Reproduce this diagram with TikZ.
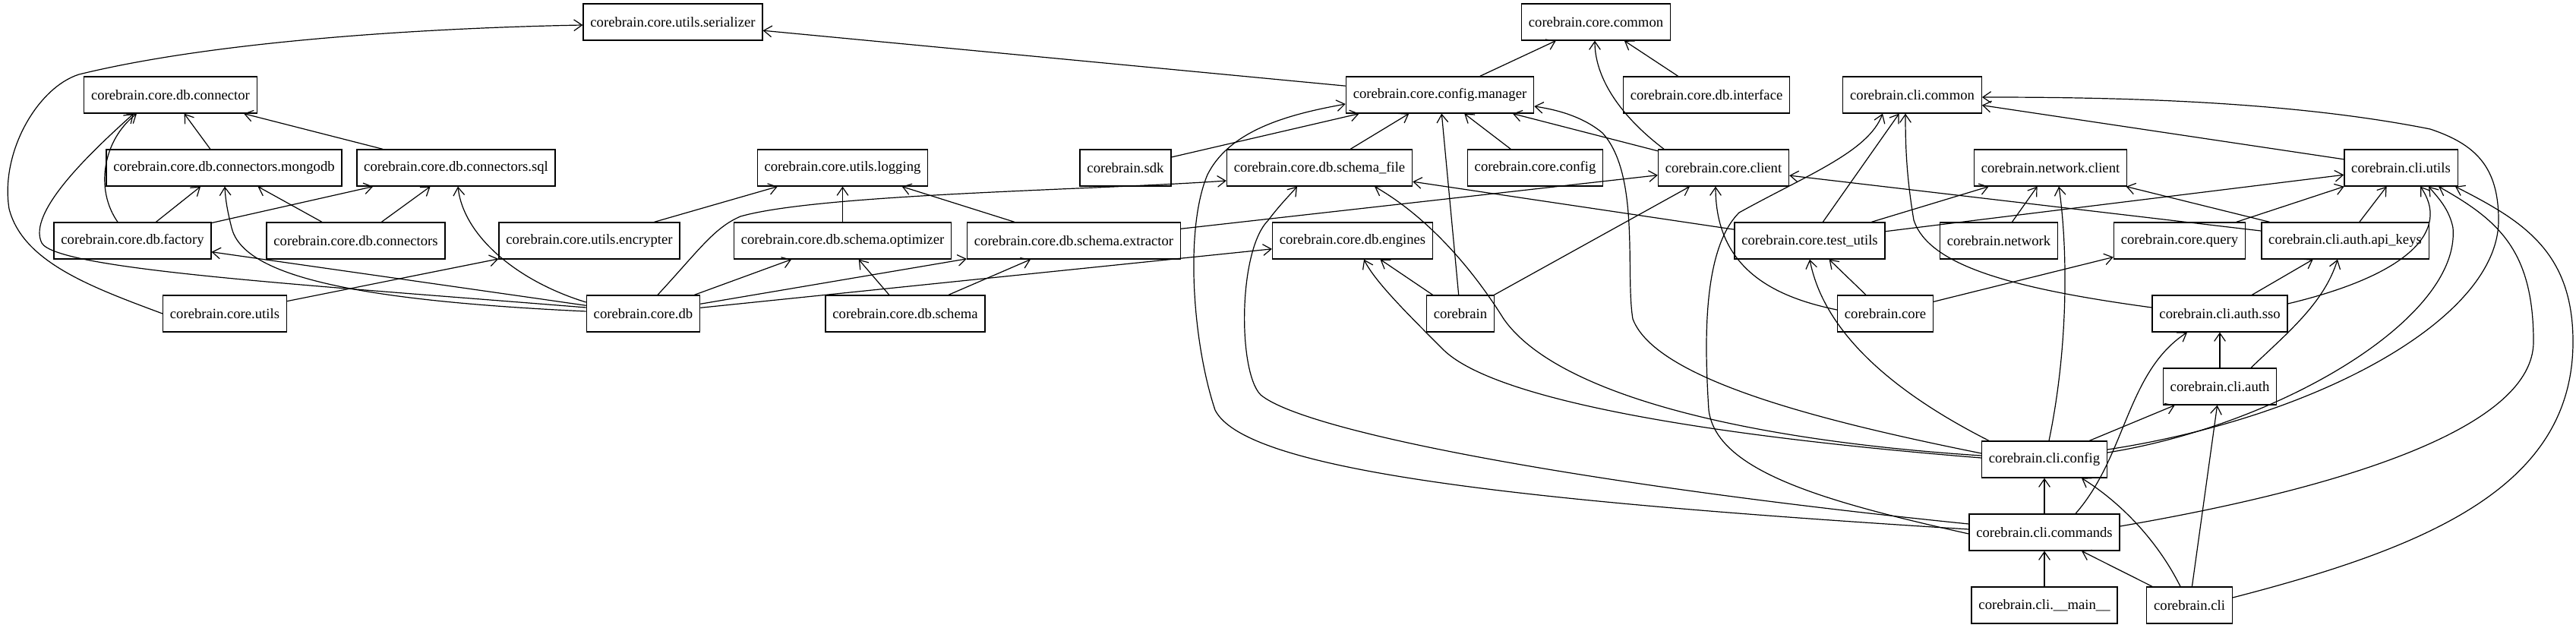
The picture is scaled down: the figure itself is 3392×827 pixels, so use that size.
\documentclass[tikz,border=0pt]{standalone}
\usepackage{fontspec}
\setmainfont{Liberation Serif}
\usetikzlibrary{arrows.meta}
\tikzset{
  mod/.style={draw, line width=1pt, minimum height=36pt, inner xsep=7pt, inner ysep=0pt, font=\fontsize{14}{16}\selectfont},
  dep/.style={line width=0.9pt, -{Straight Barb[length=8pt,width=11pt]}}
}

\begin{document}
\begin{tikzpicture}[x=0.75pt, y=-0.75pt]
\useasboundingbox (0,0) rectangle (3392,827);
% modules
\node[mod] (ser) at (886,29) {corebrain.core.utils.serializer};
\node[mod] (ccommon) at (2101.5,29) {corebrain.core.common};
\node[mod] (conn) at (224.5,125) {corebrain.core.db.connector};
\node[mod] (cfgmgr) at (1896,125) {corebrain.core.config.manager};
\node[mod] (dbif) at (2247,125) {corebrain.core.db.interface};
\node[mod] (clicommon) at (2518,125) {corebrain.cli.common};
\node[mod] (mongo) at (295,221) {corebrain.core.db.connectors.mongodb};
\node[mod] (sql) at (600.5,221) {corebrain.core.db.connectors.sql};
\node[mod] (logging) at (1109.5,221) {corebrain.core.utils.logging};
\node[mod] (sdk) at (1482,221) {corebrain.sdk};
\node[mod] (schemafile) at (1737.5,221) {corebrain.core.db.schema\_file};
\node[mod] (cconfig) at (2021.5,221) {corebrain.core.config};
\node[mod] (cclient) at (2269.5,221) {corebrain.core.client};
\node[mod] (netclient) at (2700,221) {corebrain.network.client};
\node[mod] (cliutils) at (3161.5,221) {corebrain.cli.utils};
\node[mod] (factory) at (174.5,317) {corebrain.core.db.factory};
\node[mod] (connectors) at (468.5,317) {corebrain.core.db.connectors};
\node[mod] (encrypter) at (776,317) {corebrain.core.utils.encrypter};
\node[mod] (optimizer) at (1109.5,317) {corebrain.core.db.schema.optimizer};
\node[mod] (extractor) at (1414,317) {corebrain.core.db.schema.extractor};
\node[mod] (engines) at (1781,317) {corebrain.core.db.engines};
\node[mod] (testutils) at (2383,317) {corebrain.core.test\_utils};
\node[mod] (network) at (2632,317) {corebrain.network};
\node[mod] (query) at (2870,317) {corebrain.core.query};
\node[mod] (apikeys) at (3088,317) {corebrain.cli.auth.api\_keys};
\node[mod] (cutils) at (296,413) {corebrain.core.utils};
\node[mod] (db) at (847,413) {corebrain.core.db};
\node[mod] (schema) at (1192,413) {corebrain.core.db.schema};
\node[mod] (corebrain) at (1923,413) {corebrain};
\node[mod] (core) at (2482.5,413) {corebrain.core};
\node[mod] (sso) at (2923,413) {corebrain.cli.auth.sso};
\node[mod] (auth) at (2923,509) {corebrain.cli.auth};
\node[mod] (cliconfig) at (2692,605) {corebrain.cli.config};
\node[mod] (commands) at (2692,701) {corebrain.cli.commands};
\node[mod] (climain) at (2692,797) {corebrain.cli.\_\_main\_\_};
\node[mod] (cli) at (2883,797) {corebrain.cli};

% straight imports
\draw[dep] (cfgmgr) -- (ser);
\draw[dep] (cfgmgr) -- (ccommon);
\draw[dep] (dbif) -- (ccommon);
\draw[dep] (mongo) -- (conn);
\draw[dep] (sql) -- (conn);
\draw[dep] (factory) -- (mongo);
\draw[dep] (factory) -- (sql);
\draw[dep] (connectors) -- (mongo);
\draw[dep] (connectors) -- (sql);
\draw[dep] (db) -- (factory);
\draw[dep] (cutils) -- (encrypter);
\draw[dep] (encrypter) -- (logging);
\draw[dep] (optimizer) -- (logging);
\draw[dep] (extractor) -- (logging);
\draw[dep] (db) -- (optimizer);
\draw[dep] (db) -- (extractor);
\draw[dep] (db) -- (engines);
\draw[dep] (schema) -- (optimizer);
\draw[dep] (schema) -- (extractor);
\draw[dep] (extractor) -- (cclient);
\draw[dep] (sdk) -- (cfgmgr);
\draw[dep] (schemafile) -- (cfgmgr);
\draw[dep] (cconfig) -- (cfgmgr);
\draw[dep] (cclient) -- (cfgmgr);
\draw[dep] (corebrain) -- (cfgmgr);
\draw[dep] (corebrain) -- (cclient);
\draw[dep] (corebrain) -- (engines);
\draw[dep] (testutils) -- (schemafile);
\draw[dep] (testutils) -- (clicommon);
\draw[dep] (testutils) -- (netclient);
\draw[dep] (testutils) -- (cliutils);
\draw[dep] (core) -- (testutils);
\draw[dep] (core) -- (query);
\draw[dep] (network) -- (netclient);
\draw[dep] (apikeys) -- (netclient);
\draw[dep] (apikeys) -- (cclient);
\draw[dep] (apikeys) -- (cliutils);
\draw[dep] (query) -- (cliutils);
\draw[dep] (cliutils) -- (clicommon);
\draw[dep] (sso) -- (apikeys);
\draw[dep] (auth) -- (sso);
\draw[dep] (cliconfig) -- (auth);
\draw[dep] (commands) -- (cliconfig);
\draw[dep] (cli) -- (commands);
\draw[dep] (cli) -- (auth);
\draw[dep] (climain) -- (commands);

% curved imports
\draw[dep] (cutils.west) .. controls (120,378) and (30,345) .. (12,275) .. controls (0,200) and (50,115) .. (104,98) .. controls (300,50) and (600,36) .. (ser.west |- 0,33);
\draw[dep] (db.west |- 0,405) .. controls (400,375) and (75,355) .. (55,320) .. controls (35,280) and (120,200) .. (conn.south -| 176,0);
\draw[dep] (factory.north -| 155,0) .. controls (125,250) and (135,185) .. (conn.south -| 180,0);
\draw[dep] (db.west |- 0,410) .. controls (450,395) and (320,360) .. (305,300) .. controls (300,280) and (297,265) .. (mongo.south -| 296,0);
\draw[dep] (db.west |- 0,398) .. controls (680,370) and (610,310) .. (sql.south -| 603,0);
\draw[dep] (db.north -| 866,0) .. controls (920,330) and (940,300) .. (975,285) .. controls (1080,255) and (1450,250) .. (schemafile.west |- 0,238);
\draw[dep] (cclient.north -| 2191,0) .. controls (2130,150) and (2100,100) .. (ccommon.south -| 2100,0);
\draw[dep] (core.west |- 0,408) .. controls (2330,390) and (2259,350) .. (cclient.south -| 2259,0);
\draw[dep] (commands.west |- 0,697) .. controls (2000,660) and (1640,620) .. (1600,540) .. controls (1570,450) and (1560,300) .. (1590,230) .. controls (1620,170) and (1700,150) .. (cfgmgr.west |- 0,137);
\draw[dep] (commands.west |- 0,690) .. controls (2100,640) and (1720,570) .. (1660,520) .. controls (1630,490) and (1630,330) .. (1670,290) .. controls (1685,270) and (1700,255) .. (schemafile.south -| 1708,0);
\draw[dep] (commands.west |- 0,703) .. controls (2400,660) and (2260,620) .. (2250,540) .. controls (2245,460) and (2240,330) .. (2290,280) .. controls (2380,230) and (2460,200) .. (clicommon.south -| 2479,0);
\draw[dep] (cliconfig.west |- 0,597) .. controls (2400,555) and (2180,500) .. (2150,420) .. controls (2140,360) and (2160,230) .. (2110,175) .. controls (2080,150) and (2040,143) .. (cfgmgr.east |- 0,140);
\draw[dep] (cliconfig.west |- 0,600) .. controls (2300,580) and (2050,520) .. (1980,420) .. controls (1930,340) and (1870,280) .. (schemafile.south -| 1810,0);
\draw[dep] (cliconfig.west |- 0,603) .. controls (2200,570) and (1960,520) .. (1900,460) .. controls (1850,410) and (1810,370) .. (engines.south -| 1796,0);
\draw[dep] (cliconfig.north -| 2619,0) .. controls (2480,510) and (2400,430) .. (testutils.south -| 2383,0);
\draw[dep] (cliconfig.north -| 2698,0) .. controls (2725,450) and (2722,320) .. (netclient.south -| 2711,0);
\draw[dep] (sso.west |- 0,405) .. controls (2650,380) and (2540,350) .. (2520,290) .. controls (2510,230) and (2509,190) .. (clicommon.south -| 2509,0);
\draw[dep] (sso.east |- 0,400) .. controls (3180,360) and (3225,300) .. (cliutils.south -| 3187,0);
\draw[dep] (auth.north -| 2964,0) .. controls (3010,440) and (3060,400) .. (apikeys.south -| 3078,0);
\draw[dep] (commands.north -| 2733,0) .. controls (2800,600) and (2800,490) .. (sso.south -| 2880,0);
\draw[dep] (cli.north -| 2871,0) .. controls (2840,710) and (2790,660) .. (cliconfig.south -| 2741,0);
\draw[dep] (cliconfig.east |- 0,596) .. controls (3000,560) and (3240,420) .. (3230,300) .. controls (3225,275) and (3210,260) .. (cliutils.south -| 3198,0);
\draw[dep] (cliconfig.east |- 0,592) .. controls (3050,550) and (3290,420) .. (3290,290) .. controls (3290,220) and (3260,190) .. (3200,170) .. controls (3000,130) and (2750,128) .. (clicommon.east |- 0,128);
\draw[dep] (commands.east |- 0,693) .. controls (3100,640) and (3336,560) .. (3336,450) .. controls (3336,330) and (3290,290) .. (cliutils.south -| 3211,0);
\draw[dep] (cli.east |- 0,787) .. controls (3200,720) and (3388,640) .. (3388,450) .. controls (3388,330) and (3320,290) .. (cliutils.south -| 3233,0);
\end{tikzpicture}
\end{document}
